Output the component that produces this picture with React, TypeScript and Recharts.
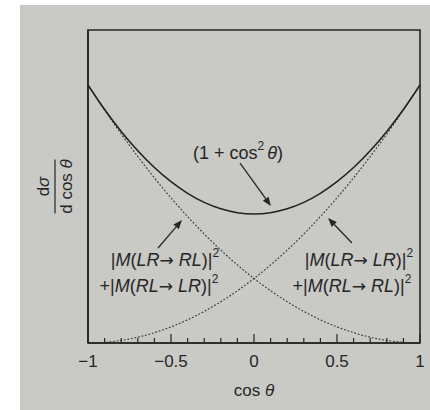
import React from 'react';
import { LineChart, Line, XAxis, YAxis, ReferenceArea, ReferenceLine, ReferenceDot } from 'recharts';

// cos(theta) sample points
const cosTheta = [-1, -0.9, -0.8, -0.7, -0.6, -0.5, -0.4, -0.3, -0.2, -0.1, 0, 0.1, 0.2, 0.3, 0.4, 0.5, 0.6, 0.7, 0.8, 0.9, 1];
// total: (1 + cos^2 theta)
const total = [2, 1.81, 1.64, 1.49, 1.36, 1.25, 1.16, 1.09, 1.04, 1.01, 1, 1.01, 1.04, 1.09, 1.16, 1.25, 1.36, 1.49, 1.64, 1.81, 2];
// |M(LR->RL)|^2 + |M(RL->LR)|^2
const flipped = [2, 1.805, 1.62, 1.445, 1.28, 1.125, 0.98, 0.845, 0.72, 0.605, 0.5, 0.405, 0.32, 0.245, 0.18, 0.125, 0.08, 0.045, 0.02, 0.005, 0];
// |M(LR->LR)|^2 + |M(RL->RL)|^2
const same = [0, 0.005, 0.02, 0.045, 0.08, 0.125, 0.18, 0.245, 0.32, 0.405, 0.5, 0.605, 0.72, 0.845, 0.98, 1.125, 1.28, 1.445, 1.62, 1.805, 2];

const xTicks = [-1, -0.9, -0.8, -0.7, -0.6, -0.5, -0.4, -0.3, -0.2, -0.1, 0, 0.1, 0.2, 0.3, 0.4, 0.5, 0.6, 0.7, 0.8, 0.9, 1];
const majorTicks = [-1, -0.5, 0, 0.5, 1];
const majorLabels = ['\u22121', '\u22120.5', '0', '0.5', '1'];

const data = cosTheta.map((c, i) => ({ c, total: total[i], flipped: flipped[i], same: same[i] }));

const INK = '#262626';
const FONT = '"Liberation Sans", Arial, Helvetica, sans-serif';
const ARROW_FONT = '"DejaVu Sans", sans-serif';
const Y_MAX = 2.426;

const XTick = (props: any) => {
  const { x, y, payload } = props;
  const idx = majorTicks.findIndex((m) => Math.abs(m - payload.value) < 1e-6);
  const major = idx >= 0;
  return (
    <g>
      <line x1={x} x2={x} y1={y} y2={y - (major ? 9 : 5)} stroke={INK} strokeWidth={1.2} />
      {major && (
        <text x={x} y={y + 24} textAnchor="middle" fontSize={17} fill={INK} fontFamily={FONT}>
          {majorLabels[idx]}
        </text>
      )}
    </g>
  );
};

const XLabel = (props: any) => {
  const vb = props.viewBox;
  const cx = vb.x + vb.width / 2;
  return (
    <text x={cx} y={vb.y + 53} textAnchor="middle" fontSize={17} fill={INK} fontFamily={FONT}>
      cos <tspan fontStyle="italic">θ</tspan>
    </text>
  );
};

const YLabel = (props: any) => {
  const vb = props.viewBox;
  const cy = vb.y + vb.height / 2;
  const cx = 57;
  return (
    <g transform={`translate(${cx},${cy}) rotate(-90)`} fontFamily={FONT} fill={INK}>
      <text x={0} y={-8} textAnchor="middle" fontSize={17}>
        d<tspan fontStyle="italic">σ</tspan>
      </text>
      <line x1={-27} x2={27} y1={-2} y2={-2} stroke={INK} strokeWidth={1.2} />
      <text x={0} y={15} textAnchor="middle" fontSize={17}>
        d cos <tspan fontStyle="italic">θ</tspan>
      </text>
    </g>
  );
};

const Arrow = (props: any) => {
  const { x1, y1, x2, y2 } = props;
  const ang = Math.atan2(y2 - y1, x2 - x1);
  const len = 9;
  const w = 3.5;
  const bx = x2 - len * Math.cos(ang);
  const by = y2 - len * Math.sin(ang);
  const px = -Math.sin(ang) * w;
  const py = Math.cos(ang) * w;
  return (
    <g>
      <line x1={x1} y1={y1} x2={bx} y2={by} stroke={INK} strokeWidth={1.3} />
      <polygon points={`${x2},${y2} ${bx + px},${by + py} ${bx - px},${by - py}`} fill={INK} />
    </g>
  );
};

const TotalText = (props: any) => (
  <text x={props.cx} y={props.cy} textAnchor="middle" dominantBaseline="central" fontSize={18} fill={INK} fontFamily={FONT}>
    (1 + cos<tspan dy={-7} fontSize={12}>2</tspan>
    <tspan dy={7} dx={3} fontStyle="italic">θ</tspan>)
  </text>
);

const AmpLines = (first: [string, string], second: [string, string], shift: number) => (props: any) => {
  const { cx, cy } = props;
  const line = (pair: [string, string], x: number, y: number, prefix: string) => (
    <text x={x} y={y} textAnchor="middle" dominantBaseline="central" fontSize={18} fill={INK} fontFamily={FONT}>
      {prefix}|<tspan fontStyle="italic">M</tspan>(<tspan fontStyle="italic">{pair[0]}</tspan>
      <tspan fontFamily={ARROW_FONT} fontSize={17}>→</tspan> <tspan fontStyle="italic">{pair[1]}</tspan>)|
      <tspan dy={-7} fontSize={12}>2</tspan>
    </text>
  );
  return (
    <g>
      {line(first, cx + shift, cy - 13, '')}
      {line(second, cx - shift, cy + 13, '+')}
    </g>
  );
};

const FlippedText = AmpLines(['LR', 'RL'], ['RL', 'LR'], 3);
const SameText = AmpLines(['LR', 'LR'], ['RL', 'RL'], 3.5);

export default function App() {
  return (
    <div style={{ position: 'absolute', left: 0, top: 0, width: 430, height: 410, background: '#ffffff', overflow: 'hidden' }}>
      <div style={{ position: 'absolute', left: 20, top: 5, width: 410, height: 405, background: '#c9c9c5' }} />
      <div style={{ position: 'absolute', left: 0, top: 0 }}>
        <LineChart width={430} height={410} data={data} margin={{ top: 30, right: 10, bottom: 0, left: 0 }}>
          <XAxis
            dataKey="c"
            type="number"
            domain={[-1, 1]}
            ticks={xTicks}
            interval={0}
            height={67}
            tickSize={0}
            tickMargin={0}
            tickLine={false}
            axisLine={{ stroke: INK, strokeWidth: 1.6 }}
            tick={<XTick />}
            label={{ content: <XLabel /> }}
          />
          <YAxis
            type="number"
            domain={[0, Y_MAX]}
            width={88}
            tick={false}
            tickLine={false}
            axisLine={{ stroke: INK, strokeWidth: 1.6 }}
            label={{ content: <YLabel /> }}
          />
          <ReferenceArea x1={-1} x2={1} y1={0} y2={Y_MAX} fill="none" stroke={INK} strokeWidth={1.6} ifOverflow="visible" />
          <Line dataKey="flipped" type="monotone" stroke="#333" strokeWidth={1.1} strokeDasharray="1.8 1.8" dot={false} isAnimationActive={false} />
          <Line dataKey="same" type="monotone" stroke="#333" strokeWidth={1.1} strokeDasharray="1.8 1.8" dot={false} isAnimationActive={false} />
          <Line dataKey="total" type="monotone" stroke="#222" strokeWidth={1.6} dot={false} isAnimationActive={false} />
          <ReferenceLine segment={[{ x: -0.084, y: 1.395 }, { x: 0.102, y: 1.062 }]} shape={<Arrow />} ifOverflow="visible" />
          <ReferenceLine segment={[{ x: -0.578, y: 0.736 }, { x: -0.434, y: 0.953 }]} shape={<Arrow />} ifOverflow="visible" />
          <ReferenceLine segment={[{ x: 0.59, y: 0.775 }, { x: 0.446, y: 0.969 }]} shape={<Arrow />} ifOverflow="visible" />
          <ReferenceDot x={-0.096} y={1.473} r={0} shape={<TotalText />} ifOverflow="visible" />
          <ReferenceDot x={-0.554} y={0.543} r={0} shape={<FlippedText />} ifOverflow="visible" />
          <ReferenceDot x={0.611} y={0.543} r={0} shape={<SameText />} ifOverflow="visible" />
        </LineChart>
      </div>
    </div>
  );
}
